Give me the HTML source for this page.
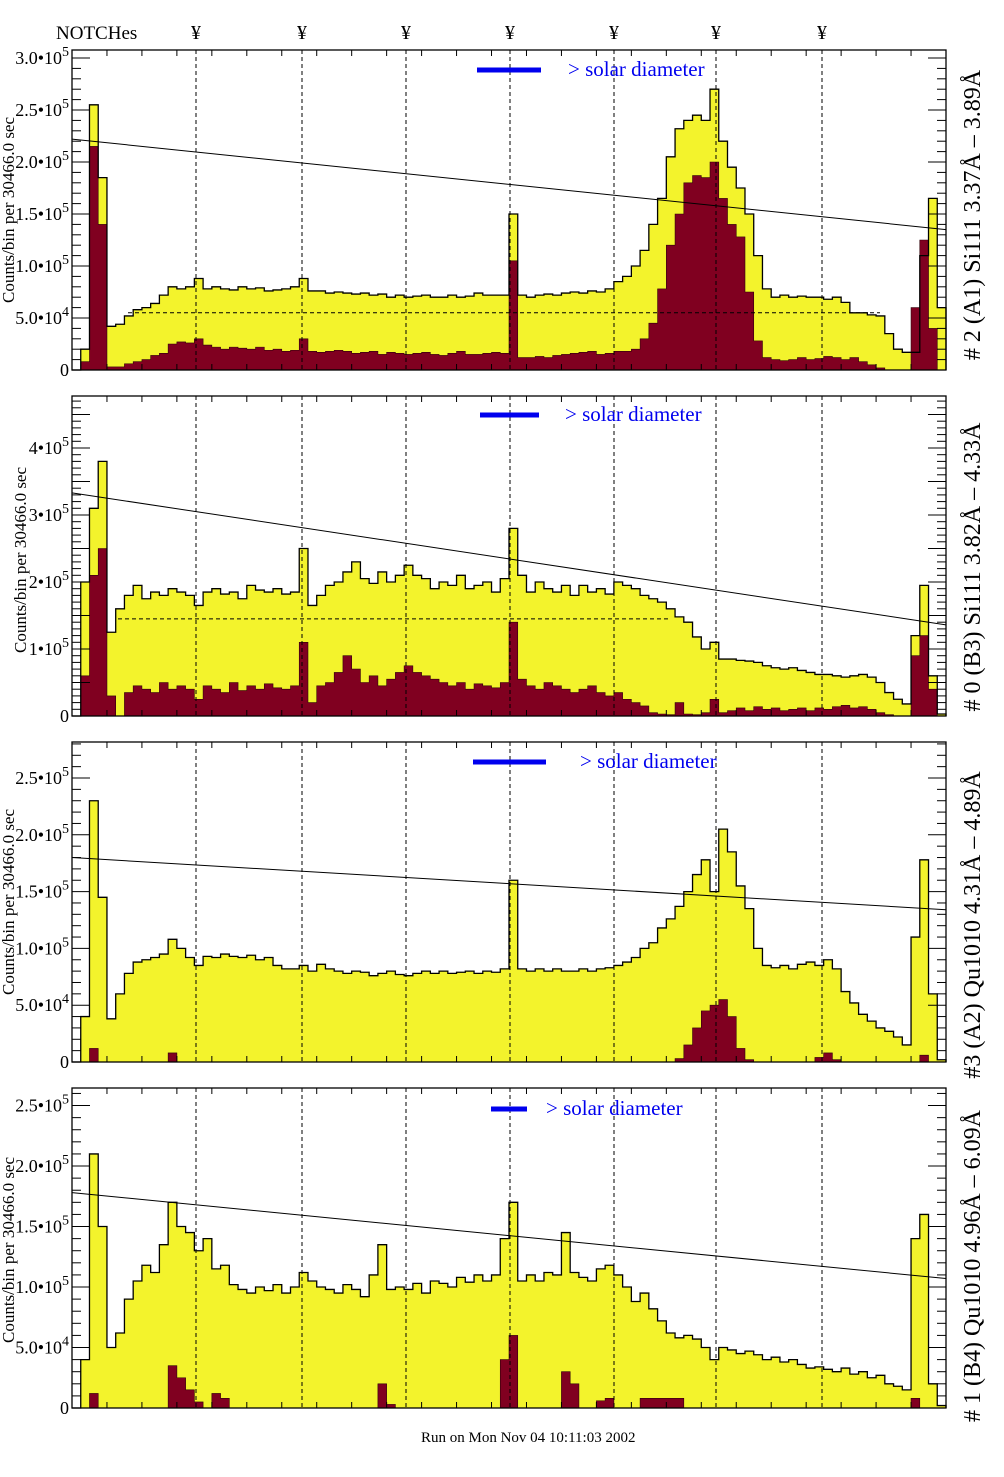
<!DOCTYPE html>
<html><head><meta charset="utf-8"><style>
html,body{margin:0;padding:0;background:#fff;}
svg{display:block;font-family:"Liberation Serif",serif;}
</style></head><body>
<svg id="chart" width="1004" height="1477" viewBox="0 0 1004 1477" xmlns="http://www.w3.org/2000/svg">
<rect x="0" y="0" width="1004" height="1477" fill="#fff"/>
<text x="56" y="39" font-size="19">NOTCHes</text>
<g id="notchmarks"></g>
<g id="panels"></g>
<text x="421" y="1442" font-size="15">Run on Mon Nov 04 10:11:03 2002</text>
</svg>
<script>
// ---- data (values in thousands of counts per bin, 100 bins across the x range) ----
const notchPositions = [196,302,406,510,614,716,822];
const p1Yellow = [0,20,255,185,42,44,52,58,60,64,72,80,78,80,88,78,80,78,77,80,78,79,76,77,78,80,88,76,76,74,75,74,73,74,72,73,70,72,70,71,72,70,70,72,70,71,74,72,72,72,150,72,70,72,73,72,74,75,74,76,75,78,85,90,100,115,140,165,205,232,240,245,240,270,220,195,175,150,110,78,70,72,70,71,70,70,68,70,65,55,55,53,52,35,20,17,17,110,165,60];
const p1Red = [0,8,215,140,3,3,6,8,10,14,16,25,27,26,30,24,22,20,22,21,20,22,19,20,18,19,30,18,17,18,19,18,16,17,18,15,17,16,15,16,17,15,14,16,18,15,15,16,17,16,105,12,12,13,12,14,15,16,17,18,15,16,18,18,20,30,45,78,120,150,180,187,185,200,165,140,128,75,28,12,10,9,10,12,10,11,13,12,10,12,8,5,2,0,0,0,60,125,40,0];
const p2Yellow = [0,200,310,380,125,160,180,195,175,185,180,190,185,180,165,185,190,182,185,175,195,188,185,190,182,185,250,165,180,195,200,215,230,205,198,215,200,210,225,210,205,190,200,195,210,190,195,200,185,205,280,210,185,200,190,185,195,180,195,185,190,182,200,195,190,180,175,170,160,148,140,118,100,110,85,85,83,82,80,75,72,70,72,68,65,62,62,60,58,60,62,58,50,35,25,18,120,195,60,3];
const p2Red = [0,60,210,250,30,0,35,45,40,35,50,40,45,40,25,45,40,35,50,38,45,40,48,42,40,45,110,20,45,50,65,90,70,50,60,45,55,65,75,65,60,55,50,45,50,40,48,45,42,50,140,55,45,40,50,45,40,35,40,45,35,30,35,25,20,15,5,3,2,20,3,2,5,25,5,8,12,8,14,10,12,8,10,12,8,12,10,14,16,12,14,10,5,2,0,0,90,120,40,0];
const p3Yellow = [0,40,230,145,38,60,78,88,90,92,95,108,100,92,85,93,92,95,93,92,94,90,92,85,82,82,85,80,86,82,80,78,80,79,76,78,80,77,76,78,80,78,80,78,79,80,78,80,79,82,160,82,80,82,80,82,80,80,82,80,82,83,85,88,92,100,105,118,126,137,150,165,178,150,205,185,155,135,100,85,83,85,82,86,88,85,90,82,62,52,42,36,30,27,22,15,110,178,60,2];
const p3Red = [0,0,12,0,0,0,0,0,0,0,0,8,0,0,0,0,0,0,0,0,0,0,0,0,0,0,0,0,0,0,0,0,0,0,0,0,0,0,0,0,0,0,0,0,0,0,0,0,0,0,0,0,0,0,0,0,0,0,0,0,0,0,0,0,0,0,0,0,0,3,15,30,45,50,55,40,12,2,0,0,0,0,0,0,0,4,8,2,0,0,0,0,0,0,0,0,0,6,0,0];
const p4Yellow = [0,40,210,150,50,62,90,105,118,112,135,170,150,145,130,140,115,118,102,98,95,100,97,102,95,100,112,105,100,98,95,102,98,92,110,135,98,100,98,103,95,105,103,100,108,104,110,105,110,140,170,105,110,105,112,110,145,112,108,105,115,118,110,100,88,95,82,72,62,58,60,57,50,40,50,48,45,47,44,40,42,38,40,36,33,34,32,30,33,28,30,25,27,20,18,15,140,160,20,2];
const p4Red = [0,0,12,0,0,0,0,0,0,0,0,35,25,15,5,0,12,8,0,0,0,0,0,0,0,0,0,0,0,0,0,0,0,0,0,20,3,0,0,0,0,0,0,0,0,0,0,0,0,40,60,0,0,0,0,0,30,20,0,0,6,8,0,0,0,8,8,8,8,8,0,0,0,0,0,0,0,0,0,0,0,0,0,0,0,0,0,0,0,0,0,0,0,0,0,0,8,0,0,0];
const slopeStart = [222,333,180,178];
const slopeEnd = [135,136,134,107];
const p1TickValues = [0,50,100,150,200,250,300];
const p1TickLabels = ["0","5.0•10|4","1.0•10|5","1.5•10|5","2.0•10|5","2.5•10|5","3.0•10|5"];
const p2TickValues = [0,100,200,300,400];
const p2TickLabels = ["0","1•10|5","2•10|5","3•10|5","4•10|5"];
const p34TickValues = [0,50,100,150,200,250];
const p34TickLabels = ["0","5.0•10|4","1.0•10|5","1.5•10|5","2.0•10|5","2.5•10|5"];
const panelTitles = ["# 2 (A1) Si111  3.37Å – 3.89Å","# 0 (B3) Si111  3.82Å – 4.33Å","#3 (A2) Qu1010  4.31Å – 4.89Å","# 1 (B4) Qu1010 4.96Å – 6.09Å"];

const NS = "http://www.w3.org/2000/svg";
const X0 = 72, X1 = 946;
function mk(tag, attrs, parent){ const e=document.createElementNS(NS,tag); for(const k in attrs) e.setAttribute(k,attrs[k]); if(parent) parent.appendChild(e); return e; }

const layouts = [
 {top:50, bot:370, ymax:307.7, yellow:p1Yellow, red:p1Red, ticks:p1TickValues, labels:p1TickLabels, dash:[[128,880,55]], bar:[477,541,70], txt:568, ylab:[8,210], title:[972,215]},
 {top:396, bot:716, ymax:477.6, yellow:p2Yellow, red:p2Red, ticks:p2TickValues, labels:p2TickLabels, dash:[[118,668,145]], bar:[480,539,415], txt:565, ylab:[20,560], title:[972,567]},
 {top:742, bot:1062, ymax:281.7, yellow:p3Yellow, red:p3Red, ticks:p34TickValues, labels:p34TickLabels, dash:[], bar:[473,546,762], txt:580, ylab:[8,902], title:[972,925]},
 {top:1088, bot:1408, ymax:264.5, yellow:p4Yellow, red:p4Red, ticks:p34TickValues, labels:p34TickLabels, dash:[], bar:[491,527,1109], txt:546, ylab:[8,1250], title:[972,1266]}
];

const nm = document.getElementById('notchmarks');
notchPositions.forEach(function(x){
  const t = mk('text',{x:x,y:39,'font-size':20,'text-anchor':'middle'},nm);
  
  
  t.textContent='¥';
});

const root = document.getElementById('panels');
layouts.forEach(function(L, pi){
  const g = mk('g',{},root);
  
  
  const N = L.yellow.length;
  const bw = (X1-X0)/N;
  const xs = function(i){ return X0 + i*bw; };
  const ys = function(v){ return L.bot - Math.min(v, L.ymax)/L.ymax*(L.bot-L.top); };
  function stepPath(arr, close){
    let d = 'M'+xs(0)+','+L.bot;
    for(let i=0;i<arr.length;i++){ d += ' L'+xs(i).toFixed(2)+','+ys(arr[i]).toFixed(2)+' L'+xs(i+1).toFixed(2)+','+ys(arr[i]).toFixed(2); }
    d += ' L'+xs(arr.length)+','+L.bot;
    if(close) d+=' Z';
    return d;
  }
  const yf = mk('path',{d:stepPath(L.yellow,true),fill:'#f3f32c',stroke:'none'},g);
  
  
  const rf = mk('path',{d:stepPath(L.red,true),fill:'#800020',stroke:'#300008','stroke-width':0.6},g);
  
  
  const yo = mk('path',{d:stepPath(L.yellow,false),fill:'none',stroke:'#000','stroke-width':1.3},g);
  
  
  notchPositions.forEach(function(x){
    const l = mk('line',{x1:x,y1:L.top,x2:x,y2:L.bot,stroke:'#000','stroke-width':1,'stroke-dasharray':'4,3'},g);
    
    
  });
  L.dash.forEach(function(dd){
    const l = mk('line',{x1:dd[0],y1:ys(dd[2]),x2:dd[1],y2:ys(dd[2]),stroke:'#000','stroke-width':1,'stroke-dasharray':'4,3'},g);
    
    
  });
  const sl = mk('line',{x1:X0,y1:ys(slopeStart[pi]),x2:X1,y2:ys(slopeEnd[pi]),stroke:'#000','stroke-width':1},g);
  
  
  const fr = mk('rect',{x:X0,y:L.top,width:X1-X0,height:L.bot-L.top,fill:'none',stroke:'#000','stroke-width':1.3},g);
  
  
  for(let x=X0; x<=X1+0.5; x+=34.96){
    mk('line',{x1:x,y1:L.top,x2:x,y2:L.top+6,stroke:'#000','stroke-width':1},g);
    mk('line',{x1:x,y1:L.bot,x2:x,y2:L.bot-6,stroke:'#000','stroke-width':1},g);
  }
  for(let v=0; v<=L.ymax; v+=10){
    const major = (Math.round(v)%50===0);
    const len = major?18:9;
    mk('line',{x1:X0,y1:ys(v),x2:X0+len,y2:ys(v),stroke:'#000','stroke-width':1},g);
    mk('line',{x1:X1,y1:ys(v),x2:X1-len,y2:ys(v),stroke:'#000','stroke-width':1},g);
  }
  L.ticks.forEach(function(v,k){
    const parts = L.labels[k].split('|');
    const t = mk('text',{x:69,y:ys(v)+6,'font-size':18,'text-anchor':'end'},g);
    
    
    if(parts.length>1){
      t.appendChild(document.createTextNode(parts[0]));
      const s = mk('tspan',{dy:-8,'font-size':14},t); s.textContent=parts[1];
    } else t.textContent=parts[0];
  });
  const yt = mk('text',{x:0,y:0,'font-size':17,'text-anchor':'middle',transform:'translate('+L.ylab[0]+','+L.ylab[1]+') rotate(-90)'},g);
  
  
  yt.setAttribute('dy','6');
  yt.textContent='Counts/bin per  30466.0 sec';
  const pt = mk('text',{x:0,y:0,'font-size':24,'text-anchor':'middle',transform:'translate('+L.title[0]+','+L.title[1]+') rotate(-90)'},g);
  
  
  pt.setAttribute('dy','8');
  pt.textContent=panelTitles[pi];
  const br = mk('rect',{x:L.bar[0],y:L.bar[2]-2.5,width:L.bar[1]-L.bar[0],height:5,fill:'#0000ee'},g);
  
  
  const st = mk('text',{x:L.txt,y:L.bar[2]+6,'font-size':21,fill:'#0000ee'},g);
  
  
  st.textContent='> solar diameter';
});
</script>
</body></html>
